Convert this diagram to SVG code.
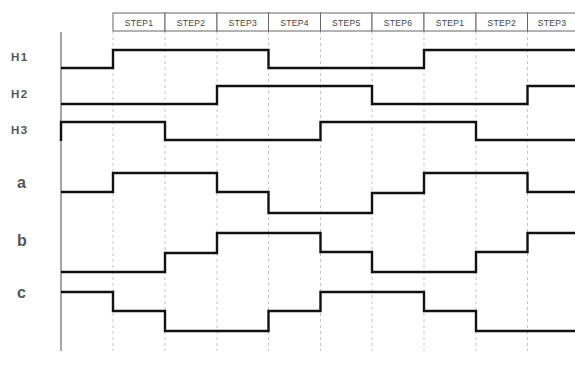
<svg xmlns="http://www.w3.org/2000/svg" width="575" height="379" viewBox="0 0 575 379">
<style>
.box{fill:#fff;stroke:#666;stroke-width:1}
.st{font-family:"Liberation Sans",Arial,sans-serif;font-size:8.6px;fill:#444;text-anchor:middle;letter-spacing:0.3px}
.lbl{font-family:"Liberation Sans",Arial,sans-serif;font-weight:bold;fill:#555}
.hl{font-size:11.5px;letter-spacing:1.5px}
.grid{stroke:#c4c4c4;stroke-width:1;stroke-dasharray:3,3;fill:none}
.sig{stroke:#111;stroke-width:2.4;fill:none;stroke-linejoin:miter}
.axis{stroke:#777;stroke-width:1.3}
</style>
<rect width="575" height="379" fill="#fff"/>
<g id="grid">
<line class="grid" x1="113" y1="31" x2="113" y2="351"/>
<line class="grid" x1="165" y1="31" x2="165" y2="351"/>
<line class="grid" x1="217" y1="31" x2="217" y2="351"/>
<line class="grid" x1="268.5" y1="31" x2="268.5" y2="351"/>
<line class="grid" x1="320.5" y1="31" x2="320.5" y2="351"/>
<line class="grid" x1="372" y1="31" x2="372" y2="351"/>
<line class="grid" x1="424" y1="31" x2="424" y2="351"/>
<line class="grid" x1="476" y1="31" x2="476" y2="351"/>
<line class="grid" x1="527.5" y1="31" x2="527.5" y2="351"/>
</g>
<g id="steps">
<g id="step1a"><rect class="box" x="113" y="13" width="52" height="18"/><text class="st" x="139" y="25.5">STEP1</text></g>
<g id="step2a"><rect class="box" x="165" y="13" width="52" height="18"/><text class="st" x="191" y="25.5">STEP2</text></g>
<g id="step3a"><rect class="box" x="217" y="13" width="51.5" height="18"/><text class="st" x="242.8" y="25.5">STEP3</text></g>
<g id="step4"><rect class="box" x="268.5" y="13" width="52" height="18"/><text class="st" x="294.5" y="25.5">STEP4</text></g>
<g id="step5"><rect class="box" x="320.5" y="13" width="51.5" height="18"/><text class="st" x="346.3" y="25.5">STEP5</text></g>
<g id="step6"><rect class="box" x="372" y="13" width="52" height="18"/><text class="st" x="398" y="25.5">STEP6</text></g>
<g id="step1b"><rect class="box" x="424" y="13" width="52" height="18"/><text class="st" x="450" y="25.5">STEP1</text></g>
<g id="step2b"><rect class="box" x="476" y="13" width="51.5" height="18"/><text class="st" x="501.8" y="25.5">STEP2</text></g>
<g id="step3b"><rect class="box" x="527.5" y="13" width="52" height="18"/><text class="st" x="552" y="25.5">STEP3</text></g>
</g>
<g id="labels">
<text class="lbl hl" x="11" y="60.5">H1</text>
<text class="lbl hl" x="11" y="97.5">H2</text>
<text class="lbl hl" x="11" y="133.5">H3</text>
<text class="lbl" x="17" y="187.5" font-size="16">a</text>
<text class="lbl" x="17" y="246" font-size="16">b</text>
<text class="lbl" x="17" y="297.5" font-size="16">c</text>
</g>
<g id="axis"><line class="axis" x1="61" y1="32" x2="61" y2="351"/></g>
<g id="signals">
<polyline id="H1" class="sig" points="61,68 113,68 113,50 268.5,50 268.5,68 424,68 424,50 576,50"/>
<polyline id="H2" class="sig" points="61,104 217,104 217,86 372,86 372,104 527.5,104 527.5,86 576,86"/>
<polyline id="H3" class="sig" points="61,141 61,122 165,122 165,140 320.5,140 320.5,122 476,122 476,140 576,140"/>
<polyline id="a" class="sig" points="61,192 113,192 113,173 217,173 217,192 268.5,192 268.5,213 372,213 372,193 424,193 424,173 527.5,173 527.5,192 576,192"/>
<polyline id="b" class="sig" points="61,272 165,272 165,253 217,253 217,233 320.5,233 320.5,252 372,252 372,272 476,272 476,252 527.5,252 527.5,233 576,233"/>
<polyline id="c" class="sig" points="61,292 113,292 113,311 165,311 165,331 268.5,331 268.5,311 320.5,311 320.5,292 424,292 424,311 476,311 476,331 576,331"/>
</g>
</svg>
